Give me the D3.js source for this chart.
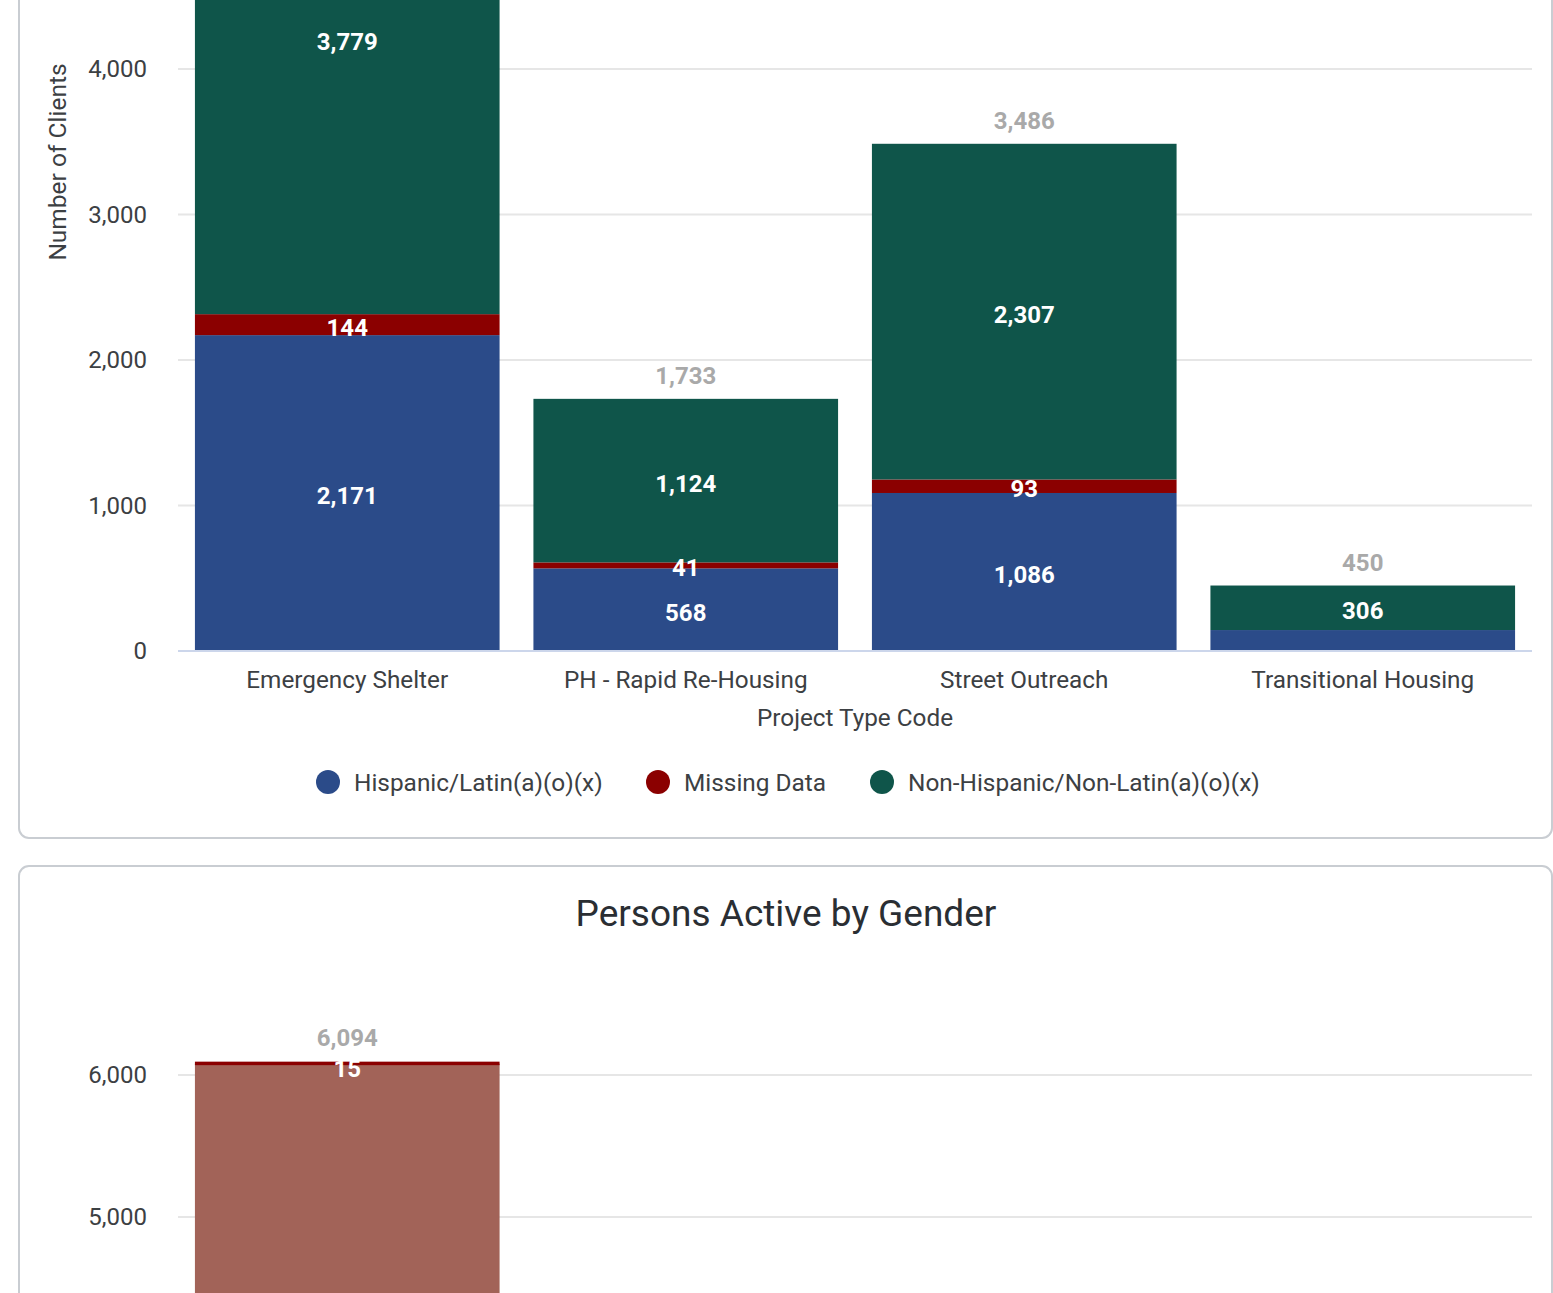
<!DOCTYPE html>
<html>
<head>
<meta charset="utf-8">
<script src="https://cdn.jsdelivr.net/npm/d3@7"></script>
<style>
  html, body { margin: 0; padding: 0; background: #fff; overflow: hidden; }
  svg { display: block; font-family: Roboto, "Noto Sans", sans-serif; }
</style>
</head>
<body>
<svg id="chart" width="1553" height="1293"></svg>
<script>
// ---------- data ----------
const categories = ["Emergency Shelter", "PH - Rapid Re-Housing", "Street Outreach", "Transitional Housing"];
const seriesNames = ["Hispanic/Latin(a)(o)(x)", "Missing Data", "Non-Hispanic/Non-Latin(a)(o)(x)"];
const hispanic = [2171, 568, 1086, 144];
const missing = [144, 41, 93, 0];
const nonHispanic = [3779, 1124, 2307, 306];
const yTicks = [0, 1000, 2000, 3000, 4000];

const genderCategories = ["Emergency Shelter", "PH - Rapid Re-Housing", "Street Outreach", "Transitional Housing"];
const genderMain = [6079];
const genderMissing = [15];
const genderTicks = [5000, 6000];

const colors = ["#2b4b89", "#8b0000", "#0f554a"];
const genderColors = ["#a26358", "#8b0000"];

// ---------- setup ----------
const svg = d3.select("#chart");
const fmt = d3.format(",");
const textColor = "#3c4043";

// cards
svg.append("rect").attr("x", 19).attr("y", -40).attr("width", 1533).attr("height", 878)
  .attr("rx", 10).attr("fill", "#fff").attr("stroke", "#c9cdd2").attr("stroke-width", 2);
svg.append("rect").attr("x", 19).attr("y", 866).attr("width", 1533).attr("height", 600)
  .attr("rx", 10).attr("fill", "#fff").attr("stroke", "#c9cdd2").attr("stroke-width", 2);

// ---------- top chart ----------
const x = d3.scaleBand().domain(categories).range([178, 1532]).paddingInner(0.1).paddingOuter(0.05);
const y = d3.scaleLinear().domain([0, 4000]).range([651, 69]);

const g1 = svg.append("g");
g1.selectAll("line.grid").data(yTicks.filter(t => t > 0)).join("line")
  .attr("x1", 178).attr("x2", 1532).attr("y1", d => y(d)).attr("y2", d => y(d))
  .attr("stroke", "#e6e6e6").attr("stroke-width", 2);
g1.selectAll("text.tick").data(yTicks).join("text")
  .attr("x", 147).attr("y", d => y(d) + 8).attr("text-anchor", "end")
  .attr("font-size", 24).attr("fill", textColor).text(d => fmt(d));

const rows = categories.map((c, i) => ({ cat: c, vals: [hispanic[i], missing[i], nonHispanic[i]] }));
const segs = [];
rows.forEach(r => {
  let acc = 0;
  r.vals.forEach((v, k) => { segs.push({ cat: r.cat, k, y0: acc, y1: acc + v, v }); acc += v; });
  r.total = acc;
});

g1.selectAll("rect.seg").data(segs.filter(s => s.v > 0)).join("rect")
  .attr("x", d => x(d.cat)).attr("width", x.bandwidth())
  .attr("y", d => y(d.y1)).attr("height", d => y(d.y0) - y(d.y1))
  .attr("fill", d => colors[d.k]);

g1.append("line").attr("x1", 178).attr("x2", 1532).attr("y1", y(0)).attr("y2", y(0))
  .attr("stroke", "#ccd6eb").attr("stroke-width", 2);

const labeled = segs.filter(s => s.v > 0 && !(s.cat === "Transitional Housing" && s.k === 0));
g1.selectAll("text.seglab").data(labeled).join("text")
  .attr("x", d => x(d.cat) + x.bandwidth() / 2)
  .attr("y", d => (y(d.y0) + y(d.y1)) / 2 + 11)
  .attr("text-anchor", "middle").attr("font-size", 24).attr("font-weight", "bold")
  .attr("fill", "#fff").text(d => fmt(d.v));

// totals (the one for the tallest bar lies above the visible area, as in the reference)
g1.selectAll("text.total").data(rows.filter(r => y(r.total) - 14 > 20)).join("text")
  .attr("x", d => x(d.cat) + x.bandwidth() / 2)
  .attr("y", d => y(d.total) - 15)
  .attr("text-anchor", "middle").attr("font-size", 24).attr("font-weight", "bold")
  .attr("fill", "#a9a9a9").text(d => fmt(d.total));

g1.selectAll("text.cat").data(categories).join("text")
  .attr("x", d => x(d) + x.bandwidth() / 2).attr("y", 688)
  .attr("text-anchor", "middle").attr("font-size", 24.3).attr("fill", textColor).text(d => d);

g1.append("text").attr("x", 855).attr("y", 726).attr("text-anchor", "middle")
  .attr("font-size", 24.3).attr("fill", textColor).text("Project Type Code");
g1.append("text").attr("transform", "translate(66,162) rotate(-90)").attr("text-anchor", "middle")
  .attr("font-size", 24.5).attr("fill", textColor).text("Number of Clients");

const legendX = [328, 658, 882];
const lg = g1.selectAll("g.leg").data(seriesNames).join("g")
  .attr("transform", (d, i) => `translate(${legendX[i]},782)`);
lg.append("circle").attr("r", 12).attr("fill", (d, i) => colors[i]);
lg.append("text").attr("x", 26).attr("y", 9).attr("font-size", 24.4).attr("fill", textColor).text(d => d);

// ---------- bottom chart ----------
const g2 = svg.append("g");
g2.append("text").attr("x", 786).attr("y", 926).attr("text-anchor", "middle")
  .attr("font-size", 37).attr("fill", "#2a2e33").text("Persons Active by Gender");

const x2 = d3.scaleBand().domain(genderCategories).range([178, 1532]).paddingInner(0.1).paddingOuter(0.05);
const y2 = d3.scaleLinear().domain([5000, 6000]).range([1217, 1075]);

g2.selectAll("line.grid").data(genderTicks).join("line")
  .attr("x1", 178).attr("x2", 1532).attr("y1", d => y2(d)).attr("y2", d => y2(d))
  .attr("stroke", "#e6e6e6").attr("stroke-width", 2);
g2.selectAll("text.tick").data(genderTicks).join("text")
  .attr("x", 147).attr("y", d => y2(d) + 8).attr("text-anchor", "end")
  .attr("font-size", 24).attr("fill", textColor).text(d => fmt(d));

const gRows = genderMain.map((v, i) => ({ cat: genderCategories[i], main: v, miss: genderMissing[i], total: v + genderMissing[i] }));
g2.selectAll("rect.main").data(gRows).join("rect")
  .attr("x", d => x2(d.cat)).attr("width", x2.bandwidth())
  .attr("y", d => y2(d.main)).attr("height", d => y2(0) - y2(d.main))
  .attr("fill", genderColors[0]);
g2.selectAll("rect.miss").data(gRows).join("rect")
  .attr("x", d => x2(d.cat)).attr("width", x2.bandwidth())
  .attr("y", d => y2(d.total)).attr("height", d => Math.max(3.5, y2(d.main) - y2(d.total)))
  .attr("fill", genderColors[1]);
g2.selectAll("text.miss").data(gRows).join("text")
  .attr("x", d => x2(d.cat) + x2.bandwidth() / 2).attr("y", d => (y2(d.main) + y2(d.total)) / 2 + 14)
  .attr("text-anchor", "middle").attr("font-size", 24).attr("font-weight", "bold")
  .attr("fill", "#fff").text(d => fmt(d.miss));
g2.selectAll("text.total").data(gRows).join("text")
  .attr("x", d => x2(d.cat) + x2.bandwidth() / 2).attr("y", d => y2(d.total) - 16)
  .attr("text-anchor", "middle").attr("font-size", 24).attr("font-weight", "bold")
  .attr("fill", "#a9a9a9").text(d => fmt(d.total));
</script>
</body>
</html>
